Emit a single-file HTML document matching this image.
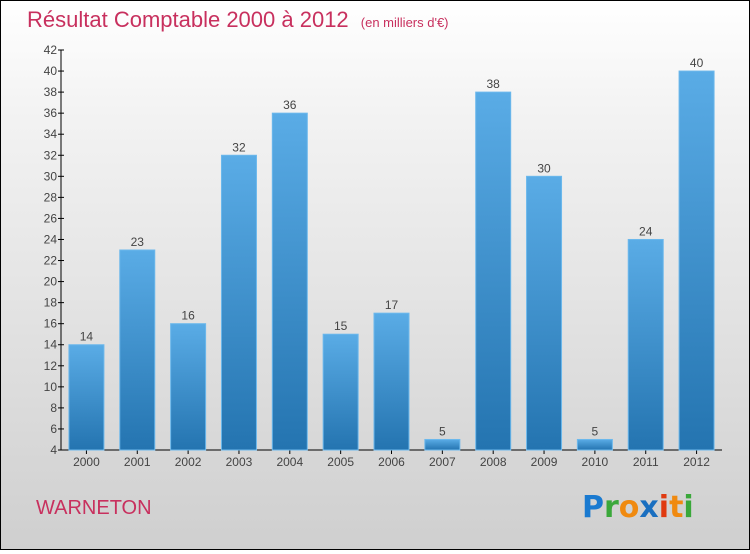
<!DOCTYPE html>
<html><head><meta charset="utf-8"><style>
html,body{margin:0;padding:0}
body{width:750px;height:550px;overflow:hidden;font-family:"Liberation Sans",sans-serif}
#wrap{position:relative;width:748px;height:548px;border:1px solid #000;background:linear-gradient(#ffffff,#f3f3f3 20%,#cfcfcf)}
</style></head><body>
<div id="wrap">
<svg width="748" height="548" viewBox="1 1 748 548">
<defs><linearGradient id="bg" x1="0" y1="0" x2="0" y2="1"><stop offset="0" stop-color="#5aace6"/><stop offset="1" stop-color="#2474b0"/></linearGradient></defs>
<text x="27" y="27" font-size="22" fill="#c8305e">Résultat Comptable 2000 à 2012 <tspan font-size="13" dx="6">(en milliers d'€)</tspan></text>
<g id="axes"></g><g id="bars"></g>
<text x="36" y="514" font-size="20" fill="#c8305e">WARNETON</text>
<g font-size="30" font-weight="bold" font-family="'DejaVu Sans',sans-serif">
<text x="582" y="517"><tspan fill="#1a7ad0">P</tspan><tspan fill="#3aa83a">r</tspan><tspan fill="#f08a10">o</tspan><tspan fill="#1a6fc0">x</tspan><tspan fill="#e03a10">i</tspan><tspan fill="#f08a10">t</tspan><tspan fill="#3aa83a">i</tspan></text></g>
</svg></div>
<script>
const years=["2000","2001","2002","2003","2004","2005","2006","2007","2008","2009","2010","2011","2012"];
const values=[14,23,16,32,36,15,17,5,38,30,5,24,40];
const yTicks=[4,6,8,10,12,14,16,18,20,22,24,26,28,30,32,34,36,38,40,42];
const NS="http://www.w3.org/2000/svg";
const x0=61,x1=722,yB=450,yT=50,vMin=4,vMax=42;
const slot=(x1-x0)/years.length;
function y(v){return yB-(v-vMin)/(vMax-vMin)*(yB-yT);}
function mk(t,a,p){const e=document.createElementNS(NS,t);for(const k in a)e.setAttribute(k,a[k]);p.appendChild(e);return e;}
const ax=document.getElementById('axes'),bs=document.getElementById('bars');
let l=mk('line',{x1:x0,y1:yT,x2:x0,y2:yB,stroke:'#000'},ax);


l=mk('line',{x1:x0,y1:yB,x2:x1,y2:yB,stroke:'#000'},ax);


yTicks.forEach(v=>{
 mk('line',{x1:x0-3,x2:x0+3,y1:y(v),y2:y(v),stroke:'#000'},ax);
 const t=mk('text',{x:x0-4,y:y(v)+4,'font-size':12,fill:'#444','text-anchor':'end'},ax);
 t.textContent=v;
 
 
});
years.forEach((yr,i)=>{
 const cx=x0+slot*(i+0.5),w=35,v=values[i];
 const r=mk('rect',{x:cx-w/2,y:y(v),width:w,height:yB-y(v),fill:'url(#bg)',stroke:'#6cb8ec','stroke-width':1},bs);
 
 
 mk('line',{x1:cx,x2:cx,y1:yB,y2:yB+4,stroke:'#000'},ax);
 const t=mk('text',{x:cx,y:yB+16,'font-size':12,fill:'#444','text-anchor':'middle'},ax);
 t.textContent=yr;
 
 
 const vl=mk('text',{x:cx,y:y(v)-4,'font-size':12,fill:'#444','text-anchor':'middle'},bs);
 vl.textContent=v;
 
 
});
</script></body></html>
